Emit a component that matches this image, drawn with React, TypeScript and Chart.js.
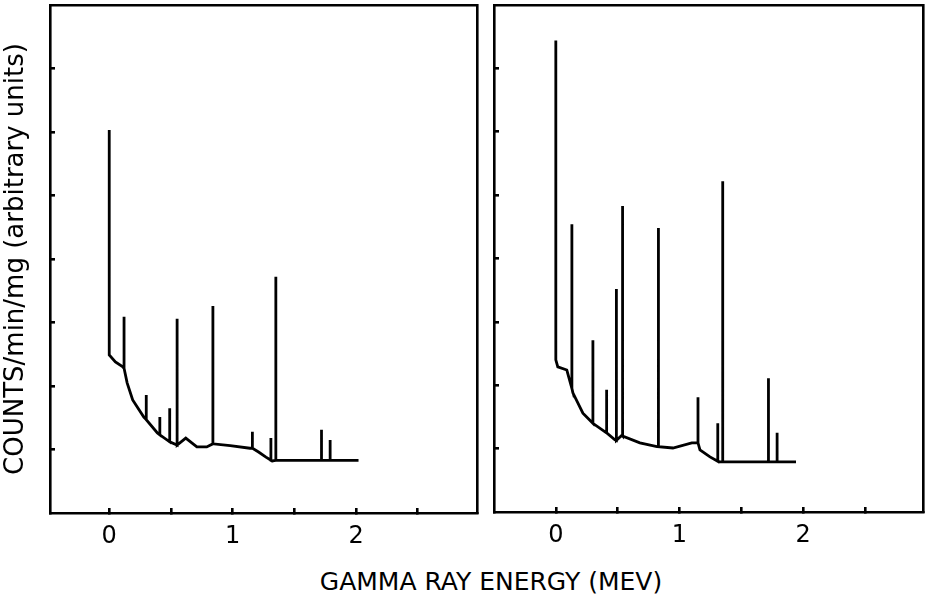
import React, { useEffect, useRef } from "react";
import { Chart, registerables } from "chart.js";

Chart.register(...registerables);

// ---- text ----
const yLabel = "COUNTS/min/mg (arbitrary units)";
const xLabel = "GAMMA RAY ENERGY (MEV)";

// ---- axes ----
const xTickValues = [0, 0.5, 1, 1.5, 2, 2.5];
const yTickValues = [1, 2, 3, 4, 5, 6, 7];

// ---- left panel: continuum (energy MeV, counts) ----
const leftContE = [0.0, 0.05, 0.11, 0.145, 0.19, 0.28, 0.39, 0.49, 0.55, 0.62, 0.71, 0.79, 0.84, 0.98, 1.14, 1.21, 1.27, 1.32, 2.02];
const leftContV = [2.49, 2.38, 2.3, 2.05, 1.78, 1.51, 1.26, 1.12, 1.07, 1.18, 1.04, 1.04, 1.09, 1.06, 1.02, 0.96, 0.88, 0.82, 0.83];
// ---- left panel: peaks ----
const leftPeakE = [0.0, 0.12, 0.3, 0.41, 0.49, 0.55, 0.84, 1.16, 1.31, 1.35, 1.72, 1.79];
const leftPeakBase = [2.49, 2.28, 1.47, 1.23, 1.12, 1.07, 1.09, 1.02, 0.83, 0.83, 0.83, 0.83];
const leftPeakTop = [6.03, 3.09, 1.86, 1.51, 1.65, 3.06, 3.26, 1.28, 1.18, 3.72, 1.31, 1.15];

// ---- right panel: continuum ----
const rightContE = [0.0, 0.016, 0.089, 0.138, 0.219, 0.3, 0.413, 0.478, 0.535, 0.68, 0.818, 0.947, 1.1, 1.166, 1.247, 1.328, 1.943];
const rightContV = [2.4, 2.29, 2.24, 1.88, 1.56, 1.4, 1.25, 1.14, 1.21, 1.09, 1.03, 1.01, 1.09, 0.98, 0.87, 0.79, 0.79];
// ---- right panel: peaks ----
const rightPeakE = [0.0, 0.13, 0.3, 0.41, 0.49, 0.54, 0.83, 1.15, 1.31, 1.35, 1.72, 1.79];
const rightPeakBase = [2.4, 1.95, 1.4, 1.25, 1.13, 1.2, 1.03, 1.09, 0.8, 0.79, 0.79, 0.79];
const rightPeakTop = [7.44, 4.54, 2.71, 1.93, 3.52, 4.83, 4.48, 1.81, 1.4, 5.22, 2.11, 1.25];

const FONT = "'DejaVu Sans', 'Liberation Sans', sans-serif";

function buildPoints(
  contE: number[],
  contV: number[],
  peakE: number[],
  peakBase: number[],
  peakTop: number[]
) {
  const events: { x: number; order: number; pts: { x: number; y: number }[] }[] = [];
  contE.forEach((e, i) => events.push({ x: e, order: 0, pts: [{ x: e, y: contV[i] }] }));
  peakE.forEach((e, i) =>
    events.push({
      x: e,
      order: 1,
      pts: [
        { x: e, y: peakBase[i] },
        { x: e, y: peakTop[i] },
        { x: e, y: peakBase[i] },
      ],
    })
  );
  events.sort((a, b) => a.x - b.x || a.order - b.order);
  return events.flatMap((ev) => ev.pts);
}

function makeConfig(
  points: { x: number; y: number }[],
  xMin: number,
  xMax: number,
  yAxisWidth: number,
  showYTitle: boolean,
  padRight: number
): any {
  const border = { display: true, color: "#000", width: 2.6 };
  return {
    type: "line",
    data: {
      datasets: [
        {
          data: points,
          borderColor: "#000",
          borderWidth: 2.8,
          pointRadius: 0,
          tension: 0,
          fill: false,
        },
      ],
    },
    options: {
      animation: false,
      responsive: false,
      maintainAspectRatio: false,
      devicePixelRatio: 1,
      layout: { padding: { left: 0, top: 5, right: padRight, bottom: 0 } },
      plugins: { legend: { display: false }, tooltip: { enabled: false }, title: { display: false } },
      scales: {
        x: {
          type: "linear",
          position: "bottom",
          min: xMin,
          max: xMax,
          afterBuildTicks: (s: any) => {
            s.ticks = xTickValues.map((v) => ({ value: v }));
          },
          afterFit: (s: any) => {
            s.height = 50;
          },
          grid: { display: true, drawOnChartArea: false, drawTicks: true, tickLength: -5, color: "#000", lineWidth: 2.6 },
          border,
          ticks: {
            padding: 14,
            color: "#000",
            font: { family: FONT, size: 24 },
            maxRotation: 0,
            autoSkip: false,
            callback: (v: any) => (Number(v) % 1 === 0 ? String(v) : ""),
          },
        },
        y: {
          type: "linear",
          position: "left",
          min: 0,
          max: 8,
          afterBuildTicks: (s: any) => {
            s.ticks = yTickValues.map((v) => ({ value: v }));
          },
          afterFit: (s: any) => {
            s.width = yAxisWidth;
          },
          grid: { display: true, drawOnChartArea: false, drawTicks: true, tickLength: -5, color: "#000", lineWidth: 2.6 },
          border,
          ticks: { display: false },
          title: {
            display: showYTitle,
            text: yLabel,
            color: "#000",
            font: { family: FONT, size: 26 },
            padding: { top: 1, bottom: 0 },
          },
        },
        xTop: {
          type: "linear",
          position: "top",
          display: true,
          afterFit: (s: any) => {
            s.height = 0;
          },
          grid: { display: false, drawTicks: false },
          border,
          ticks: { display: false },
        },
        yRight: {
          type: "linear",
          position: "right",
          display: true,
          afterFit: (s: any) => {
            s.width = 0;
          },
          grid: { display: false, drawTicks: false },
          border,
          ticks: { display: false },
        },
      },
    },
  };
}

export default function App() {
  const leftRef = useRef<HTMLCanvasElement>(null);
  const rightRef = useRef<HTMLCanvasElement>(null);

  useEffect(() => {
    const left = new Chart(
      leftRef.current as HTMLCanvasElement,
      makeConfig(buildPoints(leftContE, leftContV, leftPeakE, leftPeakBase, leftPeakTop), -0.48, 2.98, 50, true, 5)
    );
    const right = new Chart(
      rightRef.current as HTMLCanvasElement,
      makeConfig(buildPoints(rightContE, rightContV, rightPeakE, rightPeakBase, rightPeakTop), -0.5, 2.97, 6, false, 5)
    );
    return () => {
      left.destroy();
      right.destroy();
    };
  }, []);

  return (
    <div style={{ position: "absolute", left: 0, top: 0, width: 928, height: 606, background: "#fff", overflow: "hidden" }}>
      <canvas
        ref={leftRef}
        width={482}
        height={563}
        style={{ position: "absolute", left: 0, top: 0, width: 482, height: 563 }}
      />
      <canvas
        ref={rightRef}
        width={440}
        height={562}
        style={{ position: "absolute", left: 488, top: 0, width: 440, height: 562 }}
      />
      <div
        style={{
          position: "absolute",
          left: 291,
          top: 567,
          width: 400,
          textAlign: "center",
          fontFamily: FONT,
          fontSize: 25,
          lineHeight: "30px",
          color: "#000",
          whiteSpace: "nowrap",
        }}
      >
        {xLabel}
      </div>
    </div>
  );
}
